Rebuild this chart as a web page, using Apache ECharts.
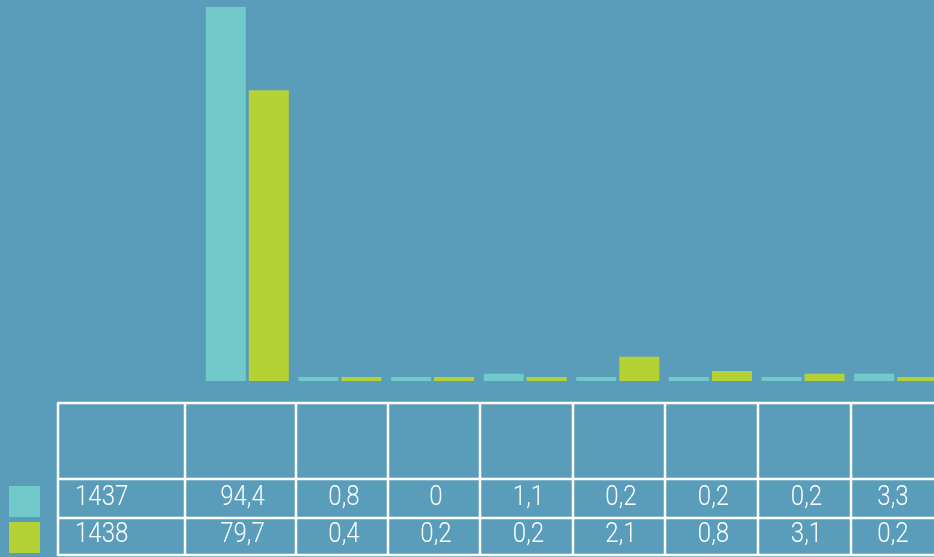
<!DOCTYPE html>
<html>
<head>
<meta charset="utf-8">
<script src="https://cdn.jsdelivr.net/npm/echarts@6/dist/echarts.min.js"></script>
<style>
html,body{margin:0;padding:0;background:#5a9dba;}
#chart{width:934px;height:557px;}
</style>
</head>
<body>
<div id="chart"></div>
<script>
// Series names (table row labels)
var seriesNames = ['1437', '1438'];
// Categories (header row of the data table is blank in the reference)
var categories = ['', ' ', '  ', '   ', '    ', '     ', '      ', '       '];
// Bar heights as drawn in the picture (value units of the hidden y axis)
var bars1437 = [94.4, 1.0, 1.0, 1.8, 1.0, 1.0, 1.0, 1.8];
var bars1438 = [73.4, 1.0, 1.0, 1.0, 6.1, 2.5, 1.8, 1.0];
// Values printed in the data table
var table1437 = ['94,4', '0,8', '0', '1,1', '0,2', '0,2', '0,2', '3,3'];
var table1438 = ['79,7', '0,4', '0,2', '0,2', '2,1', '0,8', '3,1', '0,2'];

var colors = ['#72c9c9', '#b4d234'];
var bg = '#5a9dba';

// Table layout
var colX = [58, 185, 296, 388, 480, 573, 665, 758, 851, 944];
var rowY = [403, 479, 518, 555];
var font = 'Roboto, "Noto Sans", sans-serif';
var sx = 0.86;

var graphics = [];
var lw = 2.5;
rowY.forEach(function (y) {
  graphics.push({type: 'line', silent: true, z: 10,
    shape: {x1: colX[0] - 1, y1: y, x2: 960, y2: y},
    style: {stroke: '#ffffff', lineWidth: lw}});
});
colX.slice(0, 9).forEach(function (x) {
  graphics.push({type: 'line', silent: true, z: 10,
    shape: {x1: x, y1: rowY[0], x2: x, y2: rowY[3] + 1},
    style: {stroke: '#ffffff', lineWidth: lw}});
});
graphics.push({type: 'rect', shape: {x: 9, y: 486, width: 31, height: 31}, style: {fill: colors[0]}});
graphics.push({type: 'rect', shape: {x: 9, y: 522, width: 31, height: 31}, style: {fill: colors[1]}});

var rowsText = [table1437, table1438];
var rowCenters = [498, 535];
function txt(t, x, y, align) {
  return {type: 'text', silent: true, z: 11, x: x, y: y, scaleX: sx,
    style: {text: t, x: 0, y: 0, fill: '#ffffff',
      fontSize: 28, fontWeight: 300, fontFamily: font, align: align, verticalAlign: 'middle'}};
}
rowsText.forEach(function (vals, r) {
  graphics.push(txt(seriesNames[r], 75, rowCenters[r], 'left'));
  vals.forEach(function (v, c) {
    var cx = (colX[c + 1] + colX[c + 2]) / 2 + 2;
    if (c === 7) cx = 893;
    graphics.push(txt(v, cx, rowCenters[r], 'center'));
  });
});

var chart = echarts.init(document.getElementById('chart'));
chart.setOption({
  backgroundColor: bg,
  animation: false,
  color: colors,
  grid: {left: 201, right: -8, top: 7, bottom: 176, containLabel: false, outerBoundsMode: 'none'},
  xAxis: {
    type: 'category', data: categories,
    axisLine: {show: false}, axisTick: {show: false}, axisLabel: {show: false}, splitLine: {show: false}
  },
  yAxis: {
    type: 'value', min: 0, max: 94.4, show: false, splitLine: {show: false}
  },
  series: [
    {name: seriesNames[0], type: 'bar', data: bars1437, barWidth: 40, barGap: '7.5%', itemStyle: {color: colors[0]}},
    {name: seriesNames[1], type: 'bar', data: bars1438, barWidth: 40, itemStyle: {color: colors[1]}}
  ],
  graphic: graphics
});
</script>
</body>
</html>
